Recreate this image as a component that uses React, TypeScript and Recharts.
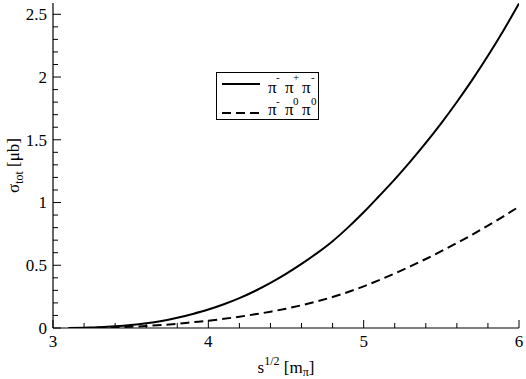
import React from 'react';
import { LineChart, Line, XAxis, YAxis, Legend } from 'recharts';

// sqrt(s) in units of m_pi
const sValues = [3.1, 3.2, 3.3, 3.4, 3.5, 3.6, 3.7, 3.8, 3.9, 4.0, 4.1, 4.2, 4.3, 4.4, 4.5, 4.6, 4.7, 4.8, 4.9, 5.0, 5.1, 5.2, 5.3, 5.4, 5.5, 5.6, 5.7, 5.8, 5.9, 6.0];
// sigma_tot [mu b] for pi- pi+ pi-
const sigmaCharged = [0.0, 0.002, 0.006, 0.013, 0.023, 0.037, 0.056, 0.081, 0.112, 0.147, 0.189, 0.238, 0.295, 0.36, 0.432, 0.511, 0.597, 0.692, 0.802, 0.922, 1.052, 1.185, 1.326, 1.475, 1.633, 1.801, 1.979, 2.169, 2.371, 2.586];
// sigma_tot [mu b] for pi- pi0 pi0
const sigmaNeutral = [0.0, 0.001, 0.003, 0.006, 0.01, 0.016, 0.024, 0.034, 0.046, 0.058, 0.073, 0.09, 0.109, 0.13, 0.154, 0.181, 0.212, 0.247, 0.287, 0.332, 0.382, 0.435, 0.491, 0.55, 0.612, 0.677, 0.745, 0.816, 0.89, 0.967];

const xTicks = [3, 3.2, 3.4, 3.6, 3.8, 4, 4.2, 4.4, 4.6, 4.8, 5, 5.2, 5.4, 5.6, 5.8, 6];
const xMajor = [3, 4, 5, 6];
const yTicks = [0, 0.1, 0.2, 0.3, 0.4, 0.5, 0.6, 0.7, 0.8, 0.9, 1, 1.1, 1.2, 1.3, 1.4, 1.5, 1.6, 1.7, 1.8, 1.9, 2, 2.1, 2.2, 2.3, 2.4, 2.5];
const yMajor = [0, 0.5, 1, 1.5, 2, 2.5];

const seriesNames = ['charged', 'neutral'];
const seriesSups = [['-', '+', '-'], ['-', '0', '0']];

const data = sValues.map((s, i) => ({ s, charged: sigmaCharged[i], neutral: sigmaNeutral[i] }));

const FONT = "'Liberation Serif', 'Times New Roman', 'DejaVu Serif', serif";
const textStyle: React.CSSProperties = { fontFamily: FONT, fontSize: 17 };
const supStyle: React.CSSProperties = { fontFamily: FONT, fontSize: 11 };
const isMajor = (v: number, list: number[]) => list.some((m) => Math.abs(m - v) < 1e-6);

const BottomTick = (props: any) => {
  const { x, y, payload } = props;
  const major = isMajor(payload.value, xMajor);
  return (
    <g>
      <line x1={x} x2={x} y1={y} y2={y - (major ? 8 : 5)} stroke="#000" strokeWidth={1} />
      {major && (
        <text x={x} y={y + 19} textAnchor="middle" style={textStyle} fill="#000">
          {payload.value}
        </text>
      )}
    </g>
  );
};

const TopTick = (props: any) => {
  const { x, y, payload } = props;
  const major = isMajor(payload.value, xMajor);
  return <line x1={x} x2={x} y1={y} y2={y + (major ? 8 : 5)} stroke="#000" strokeWidth={1} />;
};

const LeftTick = (props: any) => {
  const { x, y, payload } = props;
  const major = isMajor(payload.value, yMajor);
  return (
    <g>
      <line x1={x} x2={x + (major ? 8 : 5)} y1={y} y2={y} stroke="#000" strokeWidth={1} />
      {major && (
        <text x={x - 6} y={y} dy="0.35em" textAnchor="end" style={textStyle} fill="#000">
          {payload.value}
        </text>
      )}
    </g>
  );
};

const RightTick = (props: any) => {
  const { x, y, payload } = props;
  const major = isMajor(payload.value, yMajor);
  return <line x1={x} x2={x - (major ? 8 : 5)} y1={y} y2={y} stroke="#000" strokeWidth={1} />;
};

const XLabel = (props: any) => {
  const { viewBox } = props;
  const cx = viewBox.x + viewBox.width / 2;
  return (
    <text x={cx} y={viewBox.y + 45} textAnchor="middle" style={textStyle} fill="#000">
      s
      <tspan dy={-8} style={{ fontSize: 12 }}>1/2</tspan>
      <tspan dy={8}> [m</tspan>
      <tspan dy={3} style={{ fontSize: 12 }}>π</tspan>
      <tspan dy={-3}>]</tspan>
    </text>
  );
};

const YLabel = (props: any) => {
  const { viewBox } = props;
  const cx = viewBox.x + 19;
  const cy = viewBox.y + viewBox.height / 2;
  return (
    <text x={cx} y={cy} transform={`rotate(-90 ${cx} ${cy})`} textAnchor="middle" style={textStyle} fill="#000">
      σ
      <tspan dy={4} style={{ fontSize: 12 }}>tot</tspan>
      <tspan dy={-4}> [μb]</tspan>
    </text>
  );
};

const piX = [52, 69, 86];
const supX = [60, 77, 95];

const LegendContent = (props: any) => {
  const { payload } = props;
  return (
    <svg width={103} height={48} style={{ display: 'block' }}>
      <rect x={0.5} y={0.5} width={102} height={47} fill="#fff" stroke="#000" strokeWidth={1} />
      {(payload || []).map((entry: any, i: number) => {
        const idx = seriesNames.indexOf(entry.dataKey);
        const sups = seriesSups[idx >= 0 ? idx : i];
        const ly = i === 0 ? 12 : 41;
        const ty = i === 0 ? 21 : 43;
        const sy = i === 0 ? ty - 12 : ty - 10;
        return (
          <g key={i}>
            <line x1={6} x2={44} y1={ly} y2={ly} stroke="#000" strokeWidth={2} strokeDasharray={i === 0 ? undefined : '9 5'} />
            {piX.map((px, k) => (
              <text key={'p' + k} x={px} y={ty} style={textStyle} fill="#000">π</text>
            ))}
            {supX.map((sx, k) => (
              <text key={'s' + k} x={sx} y={sy} style={supStyle} fill="#000">{sups[k]}</text>
            ))}
          </g>
        );
      })}
    </svg>
  );
};

export default function App() {
  return (
    <div style={{ position: 'absolute', left: 0, top: 0, background: '#fff' }}>
      <LineChart width={526} height={379} data={data} margin={{ top: 3, right: 7, left: 0, bottom: 0 }}>
        <XAxis
          xAxisId="bottom"
          dataKey="s"
          type="number"
          domain={[3, 6]}
          ticks={xTicks}
          interval={0}
          allowDataOverflow
          height={51}
          tickSize={0}
          tickMargin={0}
          tickLine={false}
          tick={<BottomTick />}
          axisLine={{ stroke: '#000', strokeWidth: 1.2 }}
          label={<XLabel />}
        />
        <XAxis
          xAxisId="top"
          orientation="top"
          dataKey="s"
          type="number"
          domain={[3, 6]}
          ticks={xTicks}
          interval={0}
          allowDataOverflow
          height={0}
          tickSize={0}
          tickMargin={0}
          tickLine={false}
          tick={<TopTick />}
          axisLine={{ stroke: '#000', strokeWidth: 1.2 }}
        />
        <YAxis
          yAxisId="left"
          type="number"
          domain={[0, 2.59]}
          ticks={yTicks}
          interval={0}
          allowDataOverflow
          width={53}
          tickSize={0}
          tickMargin={0}
          tickLine={false}
          tick={<LeftTick />}
          axisLine={{ stroke: '#000', strokeWidth: 1.2 }}
          label={<YLabel />}
        />
        <YAxis
          yAxisId="right"
          orientation="right"
          type="number"
          domain={[0, 2.59]}
          ticks={yTicks}
          interval={0}
          allowDataOverflow
          width={0}
          tickSize={0}
          tickMargin={0}
          tickLine={false}
          tick={<RightTick />}
          axisLine={{ stroke: '#000', strokeWidth: 1.2 }}
        />
        <Legend
          layout="vertical"
          verticalAlign="middle"
          align="center"
          content={<LegendContent />}
          wrapperStyle={{ position: 'absolute', left: 216, top: 72, width: 103, height: 48 }}
        />
        <Line
          xAxisId="bottom"
          yAxisId="left"
          dataKey="charged"
          type="monotone"
          stroke="#000"
          strokeWidth={2}
          dot={false}
          isAnimationActive={false}
        />
        <Line
          xAxisId="bottom"
          yAxisId="left"
          dataKey="neutral"
          type="monotone"
          stroke="#000"
          strokeWidth={2}
          strokeDasharray="9 5"
          dot={false}
          isAnimationActive={false}
        />
      </LineChart>
    </div>
  );
}
